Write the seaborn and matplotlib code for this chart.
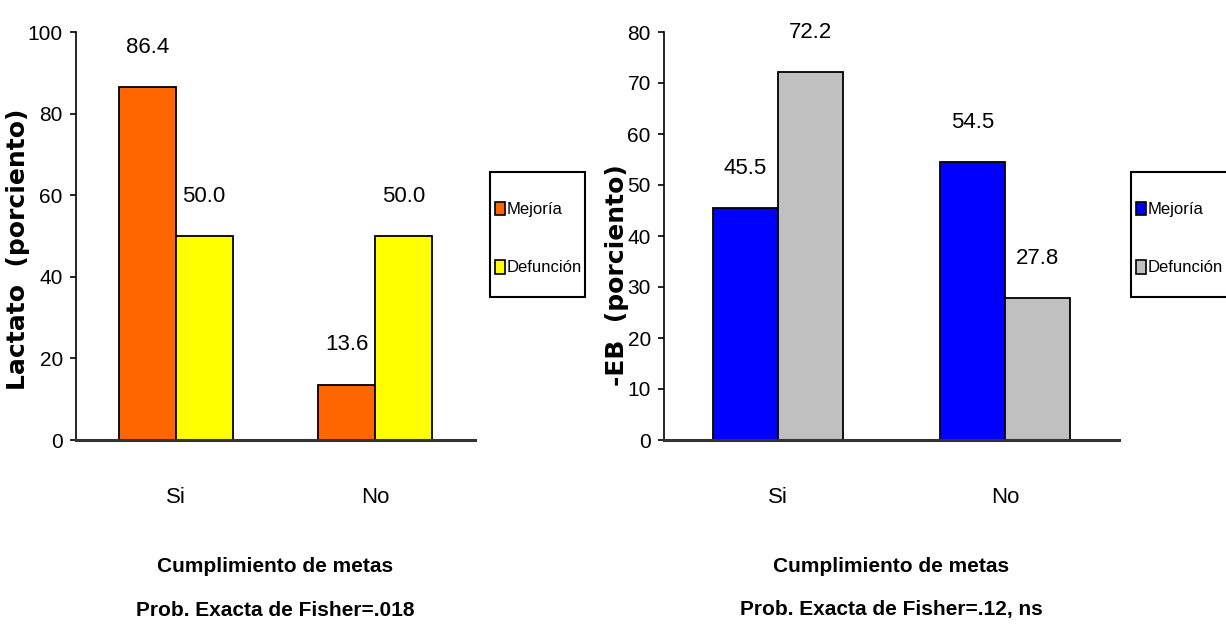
import matplotlib
matplotlib.use("Agg")
import matplotlib.pyplot as plt
import seaborn as sns
import pandas as pd
from matplotlib.ticker import FixedLocator
from matplotlib.patches import Rectangle

# ---------------- data ----------------
categories = ["Si", "No"]
series_names = ["Mejoría", "Defunción"]

lactato_mejoria = [86.4, 13.6]
lactato_defuncion = [50.0, 50.0]

eb_mejoria = [45.5, 54.5]
eb_defuncion = [72.2, 27.8]

left_yticks = [0, 20, 40, 60, 80, 100]
right_yticks = [0, 10, 20, 30, 40, 50, 60, 70, 80]

left_ylabel = "Lactato  (porciento)"
right_ylabel = "-EB  (porciento)"
xlabel_line1 = "Cumplimiento de metas"
left_xlabel_line2 = "Prob. Exacta de Fisher=.018"
right_xlabel_line2 = "Prob. Exacta de Fisher=.12, ns"

# ---------------- style ----------------
sns.set_style("white")
FONT = ["Liberation Sans", "DejaVu Sans"]
plt.rcParams["font.family"] = FONT
for k in ["text.color", "axes.labelcolor", "xtick.color", "ytick.color"]:
    plt.rcParams[k] = "black"

def make_df(a, b):
    rows = []
    for c, v in zip(categories, a):
        rows.append({"cat": c, "serie": series_names[0], "valor": v})
    for c, v in zip(categories, b):
        rows.append({"cat": c, "serie": series_names[1], "valor": v})
    return pd.DataFrame(rows)

fig = plt.figure(figsize=(12.26, 6.31), dpi=100)
W, H = 1226, 631
axL = fig.add_axes([76 / W, 1 - 440 / H, (475 - 76) / W, (440 - 32) / H])
axR = fig.add_axes([664 / W, 1 - 440 / H, (1119 - 664) / W, (440 - 32) / H])

panels = [
    (axL, make_df(lactato_mejoria, lactato_defuncion), ["#FF6600", "#FFFF00"],
     (0, 100), left_yticks, left_ylabel, (18, 249), left_xlabel_line2, (490, 172, 95, 125)),
    (axR, make_df(eb_mejoria, eb_defuncion), ["#0000FF", "#C0C0C0"],
     (0, 80), right_yticks, right_ylabel, (617, 275), right_xlabel_line2, (1131, 172, 100, 125)),
]

TICK_FS = 15
for ax, df, pal, ylim, yticks, ylab, ylabpos, xlab2, legbox in panels:
    sns.barplot(data=df, x="cat", y="valor", hue="serie", order=categories,
                hue_order=series_names, palette=pal, saturation=1, width=0.57,
                edgecolor="black", linewidth=1.3, ax=ax, errorbar=None, legend=True)
    ax.set_xlim(-0.5, len(categories) - 0.5)
    ax.set_ylim(*ylim)
    ax.set_yticks(yticks)
    ax.set_yticklabels([str(t) for t in yticks], fontsize=TICK_FS)
    ax.set_xticks(range(len(categories)))
    ax.set_xticklabels(categories, fontsize=TICK_FS + 1)
    ax.xaxis.set_minor_locator(FixedLocator([-0.5, 0.5, 1.5]))
    ax.tick_params(axis="x", which="major", length=0, pad=34)
    ax.tick_params(axis="x", which="minor", length=9, width=1.5, color="#333333", direction="out")
    ax.tick_params(axis="y", which="major", length=4.5, width=1.2, color="black", pad=5, left=True)
    for s in ["top", "right"]:
        ax.spines[s].set_visible(False)
    ax.spines["left"].set_color("black")
    ax.spines["left"].set_linewidth(1.2)
    ax.spines["bottom"].set_color("#333333")
    ax.spines["bottom"].set_linewidth(2.2)
    ax.set_ylabel("")
    ax.set_xlabel("")

    for cont in ax.containers:
        ax.bar_label(cont, fmt="%.1f", padding=21, fontsize=TICK_FS + 1)

    # x-axis title (two lines) centred under the axes
    pos = ax.get_position()
    cx = (pos.x0 + pos.x1) / 2
    fig.text(cx, 1 - 566 / H, xlabel_line1, ha="center", va="center",
             fontsize=15, fontweight="bold")
    fig.text(cx, 1 - 610 / H, xlab2, ha="center", va="center",
             fontsize=15, fontweight="bold")

    fig.text(ylabpos[0] / W, 1 - ylabpos[1] / H, ylab, rotation=90, ha="center",
             va="center", fontsize=18, fontweight="bold", family=["DejaVu Sans"])

    # legend with a plain rectangular frame
    bx, by, bw, bh = legbox
    fig.patches.append(Rectangle((bx / W, 1 - (by + bh) / H), bw / W, bh / H,
                                 transform=fig.transFigure, facecolor="white",
                                 edgecolor="black", linewidth=1.5, zorder=1))
    handles, labels = ax.get_legend_handles_labels()
    ax.get_legend().remove()
    leg = fig.legend(handles, labels, loc="center left",
                     bbox_to_anchor=((bx + 2) / W, 1 - (by + bh / 2 + 4) / H),
                     bbox_transform=fig.transFigure, frameon=False, fontsize=12,
                     handlelength=0.55, handleheight=0.9, handletextpad=0.15,
                     labelspacing=2.55, borderpad=0.2, borderaxespad=0)
    leg.set_zorder(5)
    for p in leg.get_patches():
        p.set_edgecolor("black")
        p.set_linewidth(1.2)

fig.savefig("out.png", dpi=100)
